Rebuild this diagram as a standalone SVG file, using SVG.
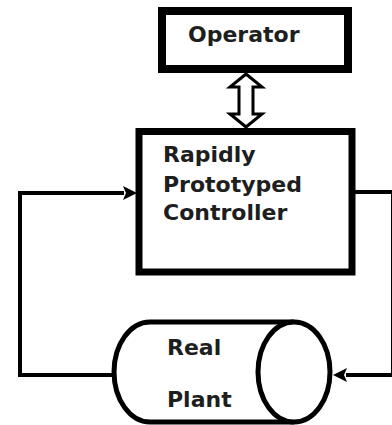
<svg xmlns="http://www.w3.org/2000/svg" width="392" height="425" viewBox="0 0 392 425">
<style>
.box{fill:#fff;stroke:#000;}
.lbl{font-family:"DejaVu Sans",Verdana,sans-serif;font-weight:bold;font-size:22px;fill:#1e1e1e;}
.wire{fill:none;stroke:#000;stroke-width:4;}
</style>
<defs>
<marker id="ah" markerUnits="userSpaceOnUse" markerWidth="16" markerHeight="16" refX="1" refY="7" orient="auto">
<path d="M0,0 L14,7 L0,14 L3,7 z" fill="#000"/>
</marker>
</defs>
<rect width="392" height="425" fill="#fff"/>
<g id="connectors">
<path class="wire" d="M112,375 H20 V193 H124" marker-end="url(#ah)"/>
<path class="wire" d="M355,192 H393 V375 H346" marker-end="url(#ah)"/>
<polygon points="246,74 262,87 253,87 253,114 262,114 246,127 230,114 239,114 239,87 230,87" fill="#fff" stroke="#000" stroke-width="3" stroke-linejoin="miter"/>
</g>
<g id="operator">
<rect class="box" x="162" y="11" width="186" height="58" stroke-width="8"/>
<text class="lbl" x="188" y="42">Operator</text>
</g>
<g id="controller">
<rect class="box" x="139" y="131.5" width="213" height="140.5" stroke-width="7"/>
<text class="lbl" x="163" y="162" font-size="23">Rapidly</text>
<text class="lbl" x="163" y="192">Prototyped</text>
<text class="lbl" x="163" y="220">Controller</text>
</g>
<g id="plant">
<path d="M294,322 H150 A36,50 0 0 0 150,422 H294" fill="#fff" stroke="#000" stroke-width="5"/>
<ellipse cx="294" cy="372" rx="36" ry="50" fill="#fff" stroke="#000" stroke-width="5"/>
<text class="lbl" x="167" y="355">Real</text>
<text class="lbl" x="167" y="407">Plant</text>
</g>
</svg>
